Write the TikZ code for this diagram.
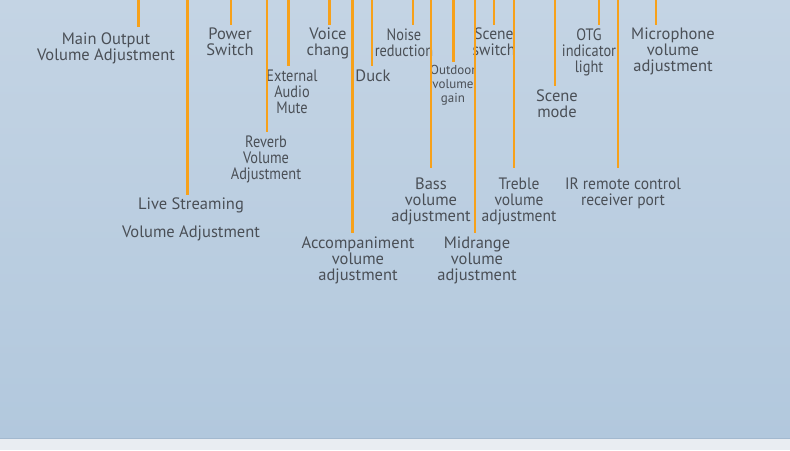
\documentclass[tikz,border=0pt]{standalone}
\usepackage{fontspec}
\setmainfont{PT Sans}
\newfontfamily\narrowfont{PT Sans}[FakeStretch=0.87]
\newfontfamily\snugfont{PT Sans}[FakeStretch=0.94]
\usepackage{tikz}
\usetikzlibrary{positioning, calc}

\definecolor{bgtop}{HTML}{C4D4E4}
\definecolor{bgbot}{HTML}{B2C8DD}
\definecolor{strip}{HTML}{E9EDF2}
\definecolor{rim}{HTML}{A3B9CF}
\definecolor{leadorange}{HTML}{F7A11A}
\definecolor{labelgray}{HTML}{4A4F56}

\begin{document}
\begin{tikzpicture}[
        x=1pt, y=-1pt,
        lbl/.style={anchor=base, align=center, inner xsep=0pt, inner ysep=3pt, text=labelgray, font=\fontsize{16.5}{16}\selectfont},
        narrow/.style={font=\narrowfont\fontsize{16.5}{16}\selectfont},
        snug/.style={font=\snugfont\fontsize{16.5}{16}\selectfont},
        small/.style={font=\fontsize{13}{14}\selectfont},
        lead/.style={draw=leadorange, line width=2.2pt}
    ]
    \useasboundingbox (0,0) rectangle (790,450);

    % Background
    \fill[top color=bgtop, bottom color=bgbot] (0,0) rectangle (790,438);
    \fill[strip] (0,438) rectangle (790,450);
    \draw[rim, line width=1pt] (0,438) -- (790,438);

    % Labels (placed at the baseline of their last line)
    \node[lbl] (mainout) at (106,60.5) {Main Output\\Volume Adjustment};
    \node[lbl] (power) at (230,55.5) {Power\\Switch};
    \node[lbl] (voice) at (328,55.5) {Voice\\chang};
    \node[lbl, narrow] (noise) at (404,56) {Noise\\reduction};
    \node[lbl, snug] (sceneswitch) at (494,55.5) {Scene\\switch};
    \node[lbl, narrow] (otg) at (589,72) {OTG\\indicator\\light};
    \node[lbl] (mic) at (673,71.5) {Microphone\\volume\\adjustment};
    \node[lbl, narrow] (extmute) at (292,113) {External\\Audio\\Mute};
    \node[lbl] (duck) at (373,81) {Duck};
    \node[lbl, small] (outdoor) at (453,102.5) {Outdoor\\volume\\gain};
    \node[lbl] (scenemode) at (557,117) {Scene\\mode};
    \node[lbl, narrow] (reverb) at (266,179) {Reverb\\Volume\\Adjustment};
    \node[lbl] (live) at (191,237.5) {Live Streaming\\[12pt]Volume Adjustment};
    \node[lbl] (bass) at (431,221) {Bass\\volume\\adjustment};
    \node[lbl, snug] (treble) at (519,221) {Treble\\volume\\adjustment};
    \node[lbl, snug] (irport) at (623,205) {IR remote control\\receiver port};
    \node[lbl] (accomp) at (358,280) {Accompaniment\\volume\\adjustment};
    \node[lbl] (midrange) at (477,280) {Midrange\\volume\\adjustment};

    % Lead tops
    \coordinate (t-mainout) at (138.5,0);
    \coordinate (t-live) at (187.5,0);
    \coordinate (t-power) at (231,0);
    \coordinate (t-reverb) at (267,0);
    \coordinate (t-extmute) at (288.5,0);
    \coordinate (t-voice) at (329.5,0);
    \coordinate (t-accomp) at (352.5,0);
    \coordinate (t-duck) at (372,0);
    \coordinate (t-noise) at (413,0);
    \coordinate (t-bass) at (431,0);
    \coordinate (t-outdoor) at (453.5,0);
    \coordinate (t-midrange) at (475,0);
    \coordinate (t-sceneswitch) at (494,0);
    \coordinate (t-treble) at (514,0);
    \coordinate (t-scenemode) at (555,0);
    \coordinate (t-otg) at (599,0);
    \coordinate (t-irport) at (618,0);
    \coordinate (t-mic) at (656,0);

    % Leads
    \draw[lead, shorten >=3pt] (t-mainout) -- (t-mainout |- mainout.north);
    \draw[lead] (t-live) -- (t-live |- live.north);
    \draw[lead] (t-power) -- (t-power |- power.north);
    \draw[lead] (t-reverb) -- (t-reverb |- reverb.north);
    \draw[lead] (t-extmute) -- (t-extmute |- extmute.north);
    \draw[lead] (t-voice) -- (t-voice |- voice.north);
    \draw[lead] (t-accomp) -- (t-accomp |- accomp.north);
    \draw[lead] (t-duck) -- (t-duck |- duck.north);
    \draw[lead] (t-noise) -- (t-noise |- noise.north);
    \draw[lead, shorten >=6pt] (t-bass) -- (t-bass |- bass.north);
    \draw[lead] (t-outdoor) -- (t-outdoor |- outdoor.north);
    \draw[lead] (t-midrange) -- (t-midrange |- midrange.north);
    \draw[lead] (t-sceneswitch) -- (t-sceneswitch |- sceneswitch.north);
    \draw[lead, shorten >=6pt] (t-treble) -- (t-treble |- treble.north);
    \draw[lead] (t-scenemode) -- (t-scenemode |- scenemode.north);
    \draw[lead] (t-otg) -- (t-otg |- otg.north);
    \draw[lead, shorten >=6pt] (t-irport) -- (t-irport |- irport.north);
    \draw[lead] (t-mic) -- (t-mic |- mic.north);

\end{tikzpicture}
\end{document}
